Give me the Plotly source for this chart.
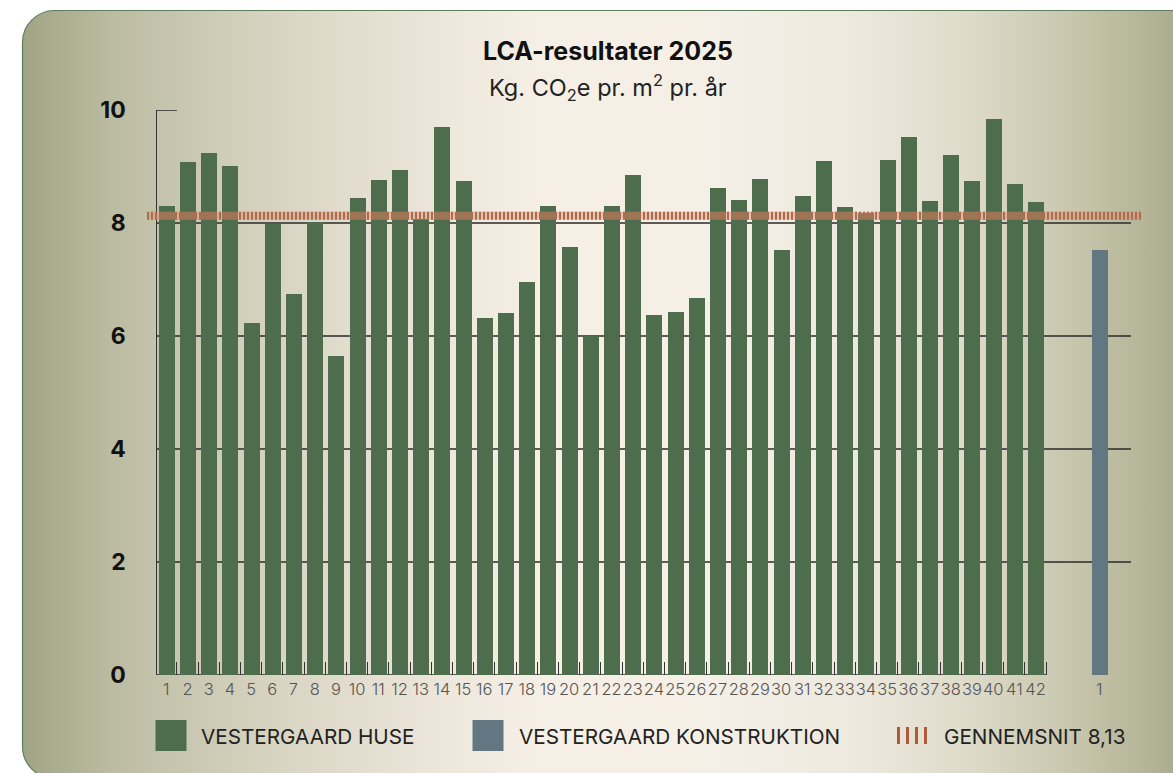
import base64
import plotly.graph_objects as go

# ---------------- data ----------------
house_labels = [str(i) for i in range(1, 43)]
house_values = [8.30, 9.08, 9.24, 9.01, 6.23, 7.99, 6.74, 8.02, 5.65, 8.44,
                8.76, 8.94, 8.07, 9.70, 8.74, 6.32, 6.41, 6.96, 8.30, 7.58,
                6.00, 8.30, 8.85, 6.37, 6.42, 6.67, 8.62, 8.41, 8.78, 7.52,
                8.48, 9.10, 8.28, 8.18, 9.12, 9.52, 8.39, 9.20, 8.74, 9.84,
                8.69, 8.37]
construction_labels = ["1"]
construction_values = [7.52]
average_value = 8.13
y_ticks = [0, 2, 4, 6, 8, 10]

title_text = "LCA-resultater 2025"
subtitle_text = "Kg. CO<sub>2</sub>e pr. m<sup>2</sup> pr. år"
legend_names = ["VESTERGAARD HUSE", "VESTERGAARD KONSTRUKTION", "GENNEMSNIT 8,13"]

# ---------------- style / layout ----------------
W, H = 1173, 773
GREEN = "#4e6d4d"
SLATE = "#637782"
RUST = "#b46a4a"
FONT = "Inter"

house_x = list(range(1, len(house_values) + 1))
construction_x = [len(house_values) + 3]
BAR_W = 0.755

def px(x):
    return x / W

def py(y):
    return (H - y) / H

# background panel as svg (gradient + rounded corners)
svg = f'''<svg xmlns="http://www.w3.org/2000/svg" width="{W}" height="{H}" viewBox="0 0 {W} {H}" preserveAspectRatio="none">
<defs><linearGradient id="g" gradientUnits="userSpaceOnUse" x1="22" y1="0" x2="{W}" y2="0">
<stop offset="0" stop-color="#a0a484"/>
<stop offset="0.08" stop-color="#bcbca2"/>
<stop offset="0.22" stop-color="#d8d4c2"/>
<stop offset="0.35" stop-color="#ebe5d9"/>
<stop offset="0.45" stop-color="#f5efe6"/>
<stop offset="0.60" stop-color="#f5f0e7"/>
<stop offset="0.72" stop-color="#eee9df"/>
<stop offset="0.82" stop-color="#dedbca"/>
<stop offset="0.92" stop-color="#c6c5ab"/>
<stop offset="1" stop-color="#acad90"/>
</linearGradient></defs>
<rect x="22.5" y="10.5" width="1220" height="768" rx="32" ry="32" fill="url(#g)" stroke="#5f7f5c" stroke-width="1.2"/>
</svg>'''
svg_uri = "data:image/svg+xml;base64," + base64.b64encode(svg.encode()).decode()

fig = go.Figure()
fig.add_trace(go.Bar(x=house_x, y=house_values, width=BAR_W, name=legend_names[0],
                     marker=dict(color=GREEN, line=dict(width=0)), showlegend=False))
fig.add_trace(go.Bar(x=construction_x, y=construction_values, width=BAR_W, name=legend_names[1],
                     marker=dict(color=SLATE, line=dict(width=0)), showlegend=False))

x_lo, x_hi = 0.54, 46.5
shapes = []
# grid lines
for v in y_ticks:
    if v in (2, 4, 6, 8):
        shapes.append(dict(type="line", xref="x", yref="y", x0=x_lo, x1=x_hi, y0=v, y1=v,
                           line=dict(color="#2a2a2a", width=1.3), layer="below"))
# short lines at top and baseline
shapes.append(dict(type="line", xref="x", yref="y", x0=x_lo, x1=1.5, y0=y_ticks[-1], y1=y_ticks[-1],
                   line=dict(color="#2a2a2a", width=1.3), layer="below"))
shapes.append(dict(type="line", xref="x", yref="y", x0=x_lo, x1=len(house_values) + 0.5, y0=0, y1=0,
                   line=dict(color="#2a2a2a", width=1.3), layer="below"))
# average line
shapes.append(dict(type="line", xref="paper", yref="y", x0=px(147), x1=px(1141), y0=average_value, y1=average_value,
                   line=dict(color="rgba(205,150,120,0.45)", width=8), layer="above"))
shapes.append(dict(type="line", xref="paper", yref="y", x0=px(147), x1=px(1141), y0=average_value, y1=average_value,
                   line=dict(color=RUST, width=8, dash="2px,2px"), layer="above"))
# legend swatches
shapes.append(dict(type="rect", xref="paper", yref="paper", x0=px(155.5), x1=px(186.5), y0=py(751), y1=py(720),
                   fillcolor=GREEN, line=dict(width=0)))
shapes.append(dict(type="rect", xref="paper", yref="paper", x0=px(472.5), x1=px(503.5), y0=py(751), y1=py(720),
                   fillcolor=SLATE, line=dict(width=0)))
shapes.append(dict(type="line", xref="paper", yref="paper", x0=px(897), x1=px(930), y0=py(735.5), y1=py(735.5),
                   line=dict(color="#b05a3a", width=17, dash="3px,6px")))

annotations = [
    dict(text=f"<b>{title_text}</b>", x=px(608), y=py(51), xref="paper", yref="paper",
         xanchor="center", yanchor="middle", showarrow=False, font=dict(family=FONT, size=25, color="#111111")),
    dict(text=subtitle_text, x=px(608), y=py(88), xref="paper", yref="paper",
         xanchor="center", yanchor="middle", showarrow=False, font=dict(family=FONT, size=23.5, color="#222222")),
]
legend_pos = [199, 517, 942]
for name, lx in zip(legend_names, legend_pos):
    annotations.append(dict(text=name, x=px(lx), y=py(736), xref="paper", yref="paper",
                            xanchor="left", yanchor="middle", showarrow=False,
                            font=dict(family=FONT, size=20.7, color="#222222")))

fig.update_layout(
    width=W, height=H,
    autosize=False,
    margin=dict(l=0, r=0, t=0, b=0, pad=0, autoexpand=False),
    paper_bgcolor="white",
    plot_bgcolor="rgba(0,0,0,0)",
    bargap=0,
    shapes=shapes,
    annotations=annotations,
    images=[dict(source=svg_uri, xref="paper", yref="paper", x=0, y=1, sizex=1, sizey=1,
                 xanchor="left", yanchor="top", sizing="stretch", layer="below")],
    xaxis=dict(domain=[px(156.5), px(1131)], range=[x_lo, x_hi], automargin=False,
               tickmode="array", tickvals=house_x + construction_x,
               ticktext=house_labels + construction_labels, tickangle=0,
               ticks="", showgrid=False, zeroline=False, showline=False,
               tickfont=dict(family=FONT, size=16.5, color="#555555", weight=300),
               ticklabelstandoff=2,
               minor=dict(tickmode="array", tickvals=[v + 0.5 for v in house_x],
                          ticks="inside", ticklen=13, tickwidth=1, tickcolor="#333333", showgrid=False)),
    yaxis=dict(domain=[py(675), py(110)], range=[0, 10], automargin=False,
               tickmode="array", tickvals=y_ticks, ticks="", showgrid=False, zeroline=False,
               showline=True, linecolor="#333333", linewidth=1.3,
               tickfont=dict(family=FONT, size=23, color="#111111", weight="bold"),
               ticklabelstandoff=25),
)

fig.write_html("out.html", config={"displayModeBar": False},
               post_script="document.body.style.margin='0';")
